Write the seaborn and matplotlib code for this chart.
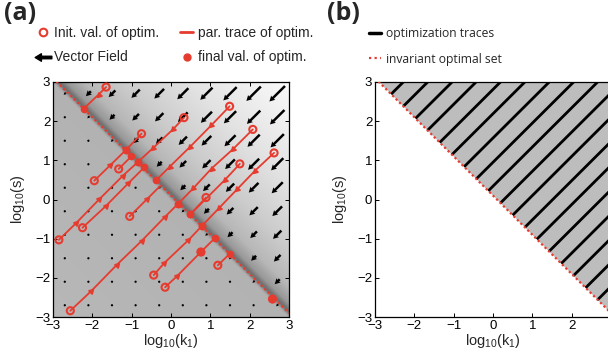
import numpy as np
import pandas as pd
import matplotlib
matplotlib.use("Agg")
import matplotlib.pyplot as plt
import seaborn as sns
from matplotlib.lines import Line2D
from matplotlib.path import Path
from matplotlib.colors import LinearSegmentedColormap

# ---------------- data ----------------
axis_ticks = [-3, -2, -1, 0, 1, 2, 3]

# panel (a): optimisation traces (initial value, iterates, final value)
trace_k1 = [
    [-1.65, -1.84, -2.22],
    [1.49, 1.02, 0.49, -0.03, -0.37],
    [0.33, 0.06, -0.45, -0.85],
    [-0.75, -1.15],
    [2.08, 1.58, 1.03, 0.57, 0.17],
    [2.62, 2.14, 1.68, 1.23, 0.79],
    [1.75, 1.37, 0.49],
    [-1.33, -1.01],
    [-1.95, -1.54, -1.15],
    [0.89, 0.49],
    [-1.05, -0.61, -0.29],
    [-2.25, -1.65, -1.09, -0.68],
    [-2.85, -2.42, -1.82, -1.22, -0.85],
    [1.19, 1.50],
    [-0.44, -0.17, 0.44, 0.79],
    [-0.15, 0.15, 0.76, 1.11],
    [-2.56, -2.03, -1.37, -0.75, -0.15, 0.17],
]
trace_s = [
    [2.87, 2.68, 2.32],
    [2.38, 1.89, 1.35, 0.84, 0.50],
    [2.09, 1.80, 1.32, 0.95],
    [1.68, 1.26],
    [1.79, 1.29, 0.79, 0.29, -0.12],
    [1.19, 0.74, 0.26, -0.21, -0.67],
    [0.91, 0.50, -0.38],
    [0.78, 1.10],
    [0.48, 0.88, 1.26],
    [0.05, -0.38],
    [-0.43, 0.01, 0.33],
    [-0.72, -0.16, 0.41, 0.82],
    [-1.03, -0.61, 0.01, 0.61, 0.95],
    [-1.68, -1.38],
    [-1.93, -1.62, -1.04, -0.67],
    [-2.24, -1.96, -1.34, -0.99],
    [-2.84, -2.34, -1.66, -1.06, -0.44, -0.12],
]
trace_has_final = [True] * 10 + [False] + [True] * 6

# optimisations that started (almost) on the optimal set
extra_k1 = [0.76, 2.58]
extra_s = [-1.34, -2.54]

# invariant optimal set: log10(k1) + log10(s) = optimal_sum
optimal_sum = 0.1

# vector field grid and arrow length per value of log10(k1)+log10(s)
field_k1 = [-2.7, -2.1, -1.5, -0.9, -0.3, 0.3, 0.9, 1.5, 2.1, 2.7]
field_s = [-2.7, -2.1, -1.5, -0.9, -0.3, 0.3, 0.9, 1.5, 2.1, 2.7]
field_len = [0.01, 0.01, 0.015, 0.02, 0.02, 0.025, 0.03, 0.035, 0.045,
             0.08, 0.18, 0.24, 0.30, 0.35, 0.40, 0.44, 0.48, 0.52, 0.56]

# background shading (grey level vs log10(k1)+log10(s))
bg_sum = [-6.0, 0.0, 0.06, 0.14, 0.35, 0.8, 1.8, 3.5, 6.0]
bg_grey = [0.72, 0.70, 0.55, 0.42, 0.60, 0.72, 0.80, 0.89, 0.98]

# panel (b): optimisation traces, given by log10(k1) - log10(s)
b_trace_diff = [-5.28, -4.66, -4.04, -3.43, -2.81, -2.19, -1.57, -0.95, -0.34,
                0.28, 0.90, 1.52, 2.13, 2.75, 3.37, 3.99, 4.61, 5.22]

# ---------------- style ----------------
RED = "#e63b2f"
sns.set_style("ticks")
plt.rcParams["font.family"] = ["Liberation Sans", "DejaVu Sans"]
plt.rcParams["mathtext.fontset"] = "custom"
plt.rcParams["mathtext.rm"] = "Liberation Sans"
plt.rcParams["mathtext.it"] = "Liberation Sans:italic"
plt.rcParams["mathtext.default"] = "rm"

W, H = 608, 354
fig = plt.figure(figsize=(W / 100, H / 100), dpi=100)
ax_a = fig.add_axes([53 / W, 37 / H, 236 / W, 235 / H])
ax_b = fig.add_axes([375 / W, 37 / H, 236 / W, 235 / H])


def style_axes(ax):
    ax.set_xlim(-3, 3)
    ax.set_ylim(-3, 3)
    ax.set_xticks(axis_ticks)
    ax.set_yticks(axis_ticks)
    ax.tick_params(direction="in", length=3, width=0.7, top=True, right=True,
                   labelsize=9.5, pad=2, colors="black")
    for sp in ax.spines.values():
        sp.set_visible(True)
        sp.set_linewidth(0.9)
        sp.set_color("black")
    ax.set_xlabel(r"log$_{10}$(k$_1$)", fontsize=10.5, labelpad=0)
    ax.set_ylabel(r"log$_{10}$(s)", fontsize=10.5, labelpad=6)


# ---------------- panel (a) ----------------
ax = ax_a
stops = [((v - bg_sum[0]) / (bg_sum[-1] - bg_sum[0]), (g, g, g)) for v, g in zip(bg_sum, bg_grey)]
bg_cmap = LinearSegmentedColormap.from_list("bg", stops)
grid = np.linspace(-3, 3, 400)
GX, GY = np.meshgrid(grid, grid)
ax.imshow(GX + GY, extent=[-3, 3, -3, 3], origin="lower", cmap=bg_cmap,
          vmin=bg_sum[0], vmax=bg_sum[-1], interpolation="bilinear",
          aspect="auto", zorder=0)

# vector field
FK, FS = np.meshgrid(field_k1, field_s)
ii, jj = np.meshgrid(np.arange(len(field_k1)), np.arange(len(field_s)))
L = np.array(field_len)[ii + jj]
ax.quiver(FK, FS, -L / np.sqrt(2), -L / np.sqrt(2), angles="xy",
          scale_units="xy", scale=1, pivot="middle", color="black",
          width=0.0105, headwidth=2.4, headlength=2.2, headaxislength=2.0,
          minshaft=1.2, minlength=1.0, zorder=3)

# invariant optimal set
ax.plot([-3, 3], [optimal_sum + 3, optimal_sum - 3], color=RED, ls=(0, (1, 1.2)),
        lw=1.6, zorder=4)

# traces
rows = []
for t, (xs, ys) in enumerate(zip(trace_k1, trace_s)):
    for o, (x, y) in enumerate(zip(xs, ys)):
        rows.append({"trace": t, "order": o, "k1": x, "s": y})
df = pd.DataFrame(rows)
sns.lineplot(data=df, x="k1", y="s", units="trace", estimator=None, sort=False,
             color=RED, lw=1.3, ax=ax, legend=False, zorder=5)

# iterate markers (arrowheads in direction of travel)
for xs, ys in zip(trace_k1, trace_s):
    if len(xs) <= 2:
        continue
    ang = 135 if xs[-1] < xs[0] else -45
    ax.plot(xs[1:-1], ys[1:-1], ls="none", marker=(3, 0, ang), ms=4.2,
            color=RED, zorder=6)

init_x = [xs[0] for xs in trace_k1] + extra_k1
init_y = [ys[0] for ys in trace_s] + extra_s
fin_x = [xs[-1] for xs, f in zip(trace_k1, trace_has_final) if f] + extra_k1
fin_y = [ys[-1] for ys, f in zip(trace_s, trace_has_final) if f] + extra_s

sns.scatterplot(x=init_x, y=init_y, marker="o", s=26, facecolor="none",
                edgecolor=RED, linewidth=1.5, ax=ax, zorder=7)
sns.scatterplot(x=fin_x, y=fin_y, marker="o", s=30, color=RED, linewidth=0,
                ax=ax, zorder=8)
style_axes(ax)

# legend (a)
arrow_path = Path([(-1, 0), (-0.25, 0.45), (-0.25, 0.15), (1, 0.15), (1, -0.15),
                   (-0.25, -0.15), (-0.25, -0.45), (-1, 0)],
                  [Path.MOVETO] + [Path.LINETO] * 6 + [Path.CLOSEPOLY])
h_init = Line2D([], [], ls="none", marker="o", mfc="none", mec=RED, mew=1.5, ms=5.5)
h_vec = Line2D([], [], ls="none", marker=arrow_path, color="black", ms=12)
h_par = Line2D([], [], color=RED, lw=2)
h_fin = Line2D([], [], ls="none", marker="o", color=RED, ms=5)
ax.legend(handles=[h_init, h_vec, h_par, h_fin],
          labels=["Init. val. of optim.", "Vector Field",
                  "par. trace of optim.", "final val. of optim."],
          ncol=2, loc="upper left", bbox_to_anchor=(37 / W, 1 - 26 / H),
          bbox_transform=fig.transFigure, frameon=False, handlelength=0.9,
          handletextpad=0.35, columnspacing=1.5, labelspacing=0.75,
          borderpad=0, borderaxespad=0, fontsize=10)

# ---------------- panel (b) ----------------
ax = ax_b
ax.set_facecolor("white")
ax.fill_between([-3, 3], [optimal_sum + 3, optimal_sum - 3], [3, 3],
                color="#bdbdbd", lw=0, zorder=1)
for d in b_trace_diff:
    x0, y0 = (optimal_sum + d) / 2, (optimal_sum - d) / 2
    if d < 0:
        x1, y1 = 3 + d, 3
    else:
        x1, y1 = 3, 3 - d
    ax.plot([x0, x1], [y0, y1], color="black", lw=2.0, solid_capstyle="butt",
            zorder=3)
ax.plot([-3, 3], [optimal_sum + 3, optimal_sum - 3], color=RED, ls=(0, (1, 1.2)),
        lw=1.6, zorder=4)
style_axes(ax)

hb1 = Line2D([], [], color="black", lw=2.5)
hb2 = Line2D([], [], color=RED, lw=1.6, ls=(0, (1, 1.5)))
ax.legend(handles=[hb1, hb2], labels=["optimization traces", "invariant optimal set"],
          loc="upper left", bbox_to_anchor=(369 / W, 1 - 27 / H),
          bbox_transform=fig.transFigure, frameon=False, handlelength=1.0,
          handletextpad=0.4, labelspacing=1.05, borderpad=0, borderaxespad=0,
          prop={"family": ["Open Sans", "DejaVu Sans"], "size": 8.7})

fig.text(4 / W, 1 - 1 / H, "(a)", fontsize=18, fontweight="bold",
         family=["Open Sans", "DejaVu Sans"], va="top", ha="left")
fig.text(327 / W, 1 - 1 / H, "(b)", fontsize=18, fontweight="bold",
         family=["Open Sans", "DejaVu Sans"], va="top", ha="left")

fig.savefig("out.png", dpi=100)
